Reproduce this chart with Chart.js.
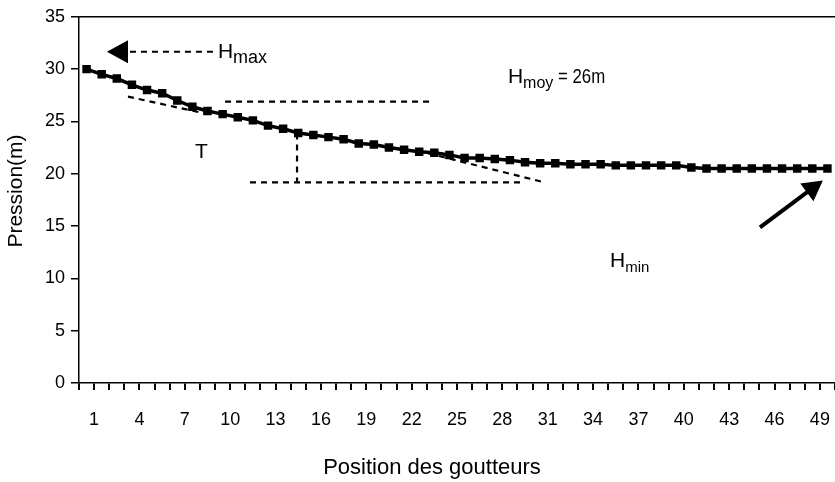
<!DOCTYPE html>
<html>
<head>
<meta charset="utf-8">
<script src="https://cdn.jsdelivr.net/npm/chart.js@4/dist/chart.umd.min.js"></script>
<style>
  body { margin: 0; background: #fff; }
  canvas { display: block; }
</style>
</head>
<body>
<canvas id="pressureChart" width="835" height="482"></canvas>
<script>
// Positions des goutteurs (1..50)
const positions = [1, 2, 3, 4, 5, 6, 7, 8, 9, 10,
  11, 12, 13, 14, 15, 16, 17, 18, 19, 20,
  21, 22, 23, 24, 25, 26, 27, 28, 29, 30,
  31, 32, 33, 34, 35, 36, 37, 38, 39, 40,
  41, 42, 43, 44, 45, 46, 47, 48, 49, 50];

// Pression (m)
const pressure = [30.0, 29.5, 29.1, 28.5, 28.0, 27.7, 27.0, 26.4, 26.0, 25.7,
  25.4, 25.1, 24.6, 24.3, 23.9, 23.7, 23.5, 23.3, 22.9, 22.8,
  22.5, 22.3, 22.1, 22.0, 21.8, 21.5, 21.5, 21.4, 21.3, 21.1,
  21.0, 21.0, 20.9, 20.9, 20.9, 20.8, 20.8, 20.8, 20.8, 20.8,
  20.6, 20.5, 20.5, 20.5, 20.5, 20.5, 20.5, 20.5, 20.5, 20.5];

// x tick labels shown every 3 positions
const xTickLabels = [1, 4, 7, 10, 13, 16, 19, 22, 25, 28, 31, 34, 37, 40, 43, 46, 49];
const yTicks = [0, 5, 10, 15, 20, 25, 30, 35];

const xTitle = 'Position des goutteurs';
const yTitle = 'Pression(m)';

// markers sit half a step left of the tick
const POINT_OFFSET = 0.5;

// annotation geometry, in data units (x = position, y = pression)
const dashedLines = [
  [3.37, 31.66, 9.0, 31.66],    // H max arrow shaft
  [9.66, 26.9, 23.2, 26.9],     // H moy level
  [3.24, 27.37, 8.33, 25.76],   // tangent, start
  [14.42, 23.84, 14.42, 19.26], // vertical drop
  [11.31, 19.17, 29.3, 19.17],  // bottom level
  [22.4, 22.2, 30.56, 19.26]    // tangent, end
];
const hmaxArrowTip = [1.85, 31.66];
const hminArrow = [45.04, 14.88, 49.2, 19.36];
const notes = [
  { x: 9.19, y: 31.09, main: 'H', sub: 'max', subSize: 18, rest: '' },
  { x: 28.37, y: 28.7, main: 'H', sub: 'moy', subSize: 16, rest: ' = 26m' },
  { x: 7.67, y: 21.46, main: 'T', sub: '', subSize: 0, rest: '' },
  { x: 35.12, y: 11.06, main: 'H', sub: 'min', subSize: 15, rest: '' }
];

const FONT = "'Liberation Sans', Arial, sans-serif";

function arrowHead(ctx, tx, ty, angle, len, half) {
  const bx = tx - Math.cos(angle) * len;
  const by = ty - Math.sin(angle) * len;
  ctx.beginPath();
  ctx.moveTo(tx, ty);
  ctx.lineTo(bx - Math.sin(angle) * half, by + Math.cos(angle) * half);
  ctx.lineTo(bx + Math.sin(angle) * half, by - Math.cos(angle) * half);
  ctx.closePath();
  ctx.fill();
}

const annotations = {
  id: 'annotations',
  afterDatasetsDraw(chart) {
    const ctx = chart.ctx;
    const xs = chart.scales.x;
    const ys = chart.scales.y;
    const area = chart.chartArea;
    ctx.save();
    ctx.strokeStyle = '#000';
    ctx.fillStyle = '#000';

    // top frame line
    ctx.lineWidth = 1.5;
    ctx.beginPath();
    ctx.moveTo(area.left, area.top);
    ctx.lineTo(area.right, area.top);
    ctx.stroke();

    // dashed construction lines
    ctx.lineWidth = 2.2;
    ctx.setLineDash([6, 5]);
    dashedLines.forEach(l => {
      ctx.beginPath();
      ctx.moveTo(xs.getPixelForValue(l[0]), ys.getPixelForValue(l[1]));
      ctx.lineTo(xs.getPixelForValue(l[2]), ys.getPixelForValue(l[3]));
      ctx.stroke();
    });
    ctx.setLineDash([]);

    // H max arrow head (pointing left)
    arrowHead(ctx, xs.getPixelForValue(hmaxArrowTip[0]), ys.getPixelForValue(hmaxArrowTip[1]), Math.PI, 21, 11.5);

    // H min arrow
    const x1 = xs.getPixelForValue(hminArrow[0]);
    const y1 = ys.getPixelForValue(hminArrow[1]);
    const x2 = xs.getPixelForValue(hminArrow[2]);
    const y2 = ys.getPixelForValue(hminArrow[3]);
    const ang = Math.atan2(y2 - y1, x2 - x1);
    ctx.lineWidth = 4;
    ctx.beginPath();
    ctx.moveTo(x1, y1);
    ctx.lineTo(x2 - Math.cos(ang) * 15, y2 - Math.sin(ang) * 15);
    ctx.stroke();
    arrowHead(ctx, x2, y2, ang, 20, 11);

    // texts
    ctx.textBaseline = 'alphabetic';
    ctx.textAlign = 'left';
    notes.forEach(n => {
      let x = xs.getPixelForValue(n.x);
      const y = ys.getPixelForValue(n.y);
      ctx.font = '21px ' + FONT;
      ctx.fillText(n.main, x, y);
      x += ctx.measureText(n.main).width;
      if (n.sub) {
        ctx.font = n.subSize + 'px ' + FONT;
        ctx.fillText(n.sub, x, y + 5);
        x += ctx.measureText(n.sub).width;
      }
      if (n.rest) {
        // condensed lettering, as in the original
        ctx.save();
        ctx.translate(x, y);
        ctx.scale(0.8, 1);
        ctx.font = '21px ' + FONT;
        ctx.fillText(n.rest, 0, 0);
        ctx.restore();
      }
    });

    // axis titles
    ctx.font = '22px ' + FONT;
    ctx.textAlign = 'center';
    ctx.textBaseline = 'middle';
    ctx.fillText(xTitle, 432, 468);
    ctx.save();
    ctx.translate(16, 191);
    ctx.rotate(-Math.PI / 2);
    ctx.font = '21px ' + FONT;
    ctx.fillText(yTitle, 0, 0);
    ctx.restore();

    ctx.restore();
  }
};

const ctx = document.getElementById('pressureChart').getContext('2d');
new Chart(ctx, {
  type: 'line',
  data: {
    datasets: [{
      data: positions.map((p, i) => ({ x: p - POINT_OFFSET, y: pressure[i] })),
      borderColor: '#000',
      backgroundColor: '#000',
      borderWidth: 3.5,
      pointStyle: 'rect',
      pointRadius: 3.5,
      tension: 0,
      fill: false,
      clip: false
    }]
  },
  plugins: [annotations],
  options: {
    responsive: false,
    animation: false,
    layout: { autoPadding: false, padding: { top: 16, right: 0, left: 0, bottom: 0 } },
    plugins: {
      legend: { display: false },
      tooltip: { enabled: false }
    },
    scales: {
      x: {
        type: 'linear',
        min: 0,
        max: 50,
        border: { color: '#000', width: 1.5 },
        grid: { drawOnChartArea: false, color: '#000', lineWidth: 2, tickLength: 7 },
        ticks: {
          stepSize: 1,
          autoSkip: false,
          maxRotation: 0,
          padding: 19,
          color: '#000',
          font: { family: FONT, size: 18 },
          callback: v => xTickLabels.includes(v) ? String(v) : ''
        },
        afterFit: scale => {
          scale.height = 99;
          scale.paddingLeft = 0;
          scale.paddingRight = 0;
        }
      },
      y: {
        min: 0,
        max: 35,
        border: { color: '#000', width: 1.5 },
        grid: { drawOnChartArea: false, color: '#000', lineWidth: 1.5, tickLength: 8 },
        ticks: {
          stepSize: 5,
          padding: 6,
          color: '#000',
          font: { family: FONT, size: 18 },
          callback: v => yTicks.includes(v) ? String(v) : ''
        },
        afterFit: scale => { scale.width = 79; }
      }
    }
  }
});
</script>
</body>
</html>
